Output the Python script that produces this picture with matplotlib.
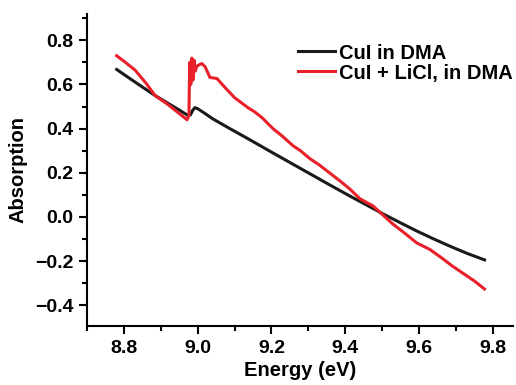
import matplotlib
matplotlib.use('Agg')
import matplotlib.pyplot as plt
from matplotlib.ticker import MultipleLocator

plt.rcParams.update({
    'font.family': ['Liberation Sans', 'DejaVu Sans'],
    'font.weight': 'bold',
    'font.size': 14,
    'axes.linewidth': 1.5,
})

# CuI in DMA
cui_x = [8.78, 8.82, 8.86, 8.884, 8.92, 8.95, 8.973, 8.98, 8.986, 8.992,
         9.00, 9.02, 9.04, 9.087, 9.13, 9.169, 9.21, 9.26, 9.31, 9.36,
         9.412, 9.46, 9.502, 9.55, 9.594, 9.64, 9.683, 9.73, 9.778]
cui_y = [0.668, 0.622, 0.577, 0.55, 0.514, 0.484, 0.46, 0.462, 0.482, 0.495,
         0.49, 0.468, 0.445, 0.40, 0.36, 0.323, 0.284, 0.237, 0.19, 0.143,
         0.095, 0.052, 0.014, -0.027, -0.064, -0.100, -0.132, -0.165, -0.195]

# CuI + LiCl, in DMA
licl_x = [8.78, 8.80, 8.83, 8.86, 8.884, 8.92, 8.95, 8.971, 8.976, 8.978,
          8.981, 8.984, 8.987, 8.990, 8.993, 8.997, 9.000, 9.011, 9.02, 9.033,
          9.052, 9.074, 9.10, 9.12, 9.136, 9.155, 9.174, 9.204, 9.23, 9.258,
          9.28, 9.304, 9.33, 9.35, 9.385, 9.412, 9.44, 9.475, 9.50, 9.529,
          9.56, 9.594, 9.63, 9.665, 9.69, 9.719, 9.75, 9.778]
licl_y = [0.73, 0.705, 0.665, 0.605, 0.55, 0.508, 0.468, 0.44, 0.46, 0.70,
          0.60, 0.72, 0.62, 0.71, 0.66, 0.68, 0.686, 0.695, 0.68, 0.632,
          0.627, 0.586, 0.54, 0.515, 0.495, 0.475, 0.45, 0.40, 0.365, 0.323,
          0.298, 0.264, 0.235, 0.209, 0.164, 0.127, 0.082, 0.05, 0.012, -0.032,
          -0.072, -0.118, -0.148, -0.19, -0.222, -0.255, -0.29, -0.327]

fig = plt.figure(figsize=(5.16, 3.85), dpi=100)
ax = fig.add_axes([0.169, 0.153, 0.825, 0.811])

ax.plot(cui_x, cui_y, color='#1a1a1a', lw=2.2, label='CuI in DMA')
ax.plot(licl_x, licl_y, color='#e8202a', lw=2.2, label='CuI + LiCl, in DMA')

ax.set_xlim(8.7, 9.855)
ax.set_ylim(-0.495, 0.92)
ax.xaxis.set_major_locator(MultipleLocator(0.2))
ax.xaxis.set_minor_locator(MultipleLocator(0.1))
ax.yaxis.set_major_locator(MultipleLocator(0.2))
ax.yaxis.set_minor_locator(MultipleLocator(0.1))
ax.tick_params(which='major', direction='out', length=6, width=1.5, pad=4)
ax.tick_params(which='minor', direction='out', length=3.5, width=1.5)
for side in ('top', 'right'):
    ax.spines[side].set_visible(False)

ax.set_xlabel('Energy (eV)', fontweight='bold', fontsize=14.5, labelpad=3)
ax.set_ylabel('Absorption', fontweight='bold', fontsize=14.5, labelpad=5)

ax.legend(loc='upper left', bbox_to_anchor=(0.495, 0.905), frameon=False,
          borderpad=0, borderaxespad=0, handlelength=1.85,
          handletextpad=0.2, labelspacing=0.05,
          prop={'weight': 'bold', 'size': 14.5})

fig.savefig('out.png', dpi=100)
